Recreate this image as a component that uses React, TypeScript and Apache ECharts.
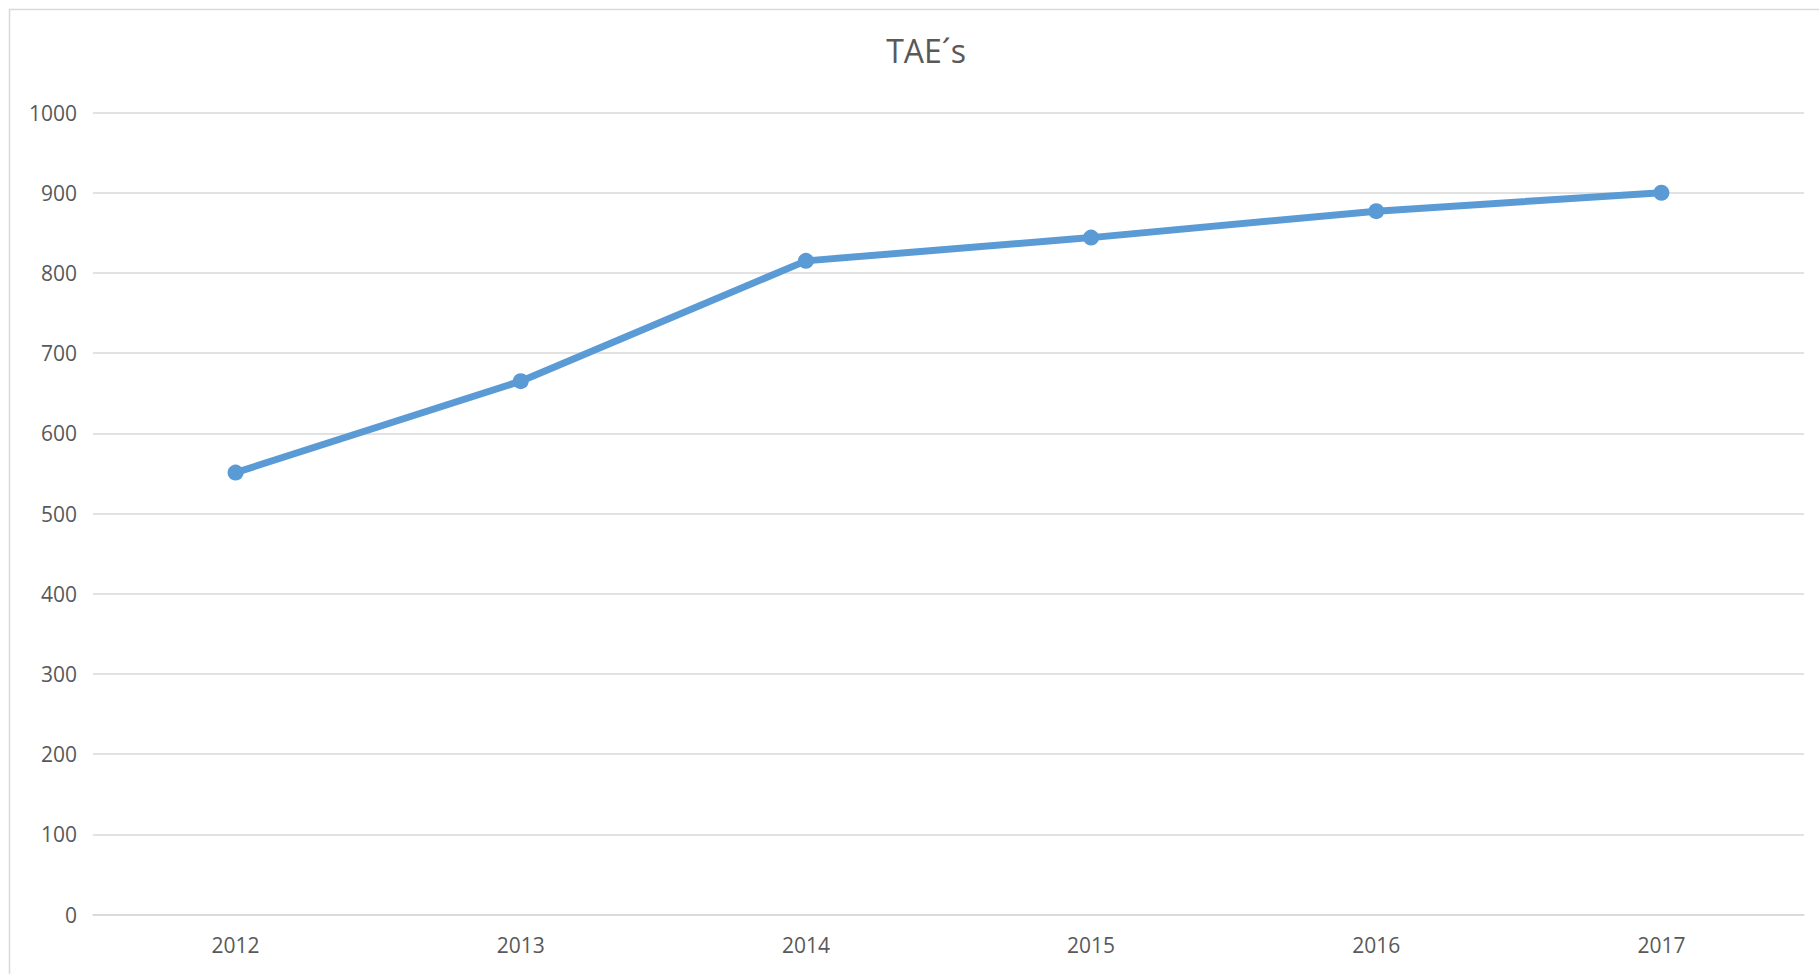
import React, { useEffect, useRef } from "react";
import * as echarts from "echarts";

const titleText = "TAE´s";
const years = ["2012", "2013", "2014", "2015", "2016", "2017"];
const taeValues = [551, 665, 815, 844, 877, 900];
const yMin = 0;
const yMax = 1000;
const yStep = 100;

export default function App() {
  const ref = useRef<HTMLDivElement>(null);
  useEffect(() => {
    if (!ref.current) return;
    const chart = echarts.init(ref.current, null, { renderer: "svg" });
    const font = "'Open Sans', 'Noto Sans', sans-serif";
    chart.setOption({
      animation: false,
      backgroundColor: "#ffffff",
      title: {
        text: titleText,
        left: 921,
        top: 29,
        textAlign: "center",
        textStyle: { fontFamily: font, fontSize: 32, fontWeight: "normal", color: "#595959" },
      },
      graphic: [
        {
          type: "rect",
          shape: { x: 9.5, y: 9.5, width: 1900, height: 1000 },
          style: { fill: "none", stroke: "#d9d9d9", lineWidth: 1.5 },
          silent: true,
        },
      ],
      grid: { left: 93, right: 15, top: 112.5, bottom: 59.5, containLabel: false },
      xAxis: {
        type: "category",
        data: years,
        boundaryGap: true,
        axisLine: { show: true, lineStyle: { color: "#d9d9d9", width: 1.5 } },
        axisTick: { show: false },
        axisLabel: { fontFamily: font, fontSize: 21, color: "#595959", margin: 20 },
        splitLine: { show: false },
      },
      yAxis: {
        type: "value",
        min: yMin,
        max: yMax,
        interval: yStep,
        axisLine: { show: false },
        axisTick: { show: false },
        axisLabel: {
          fontFamily: font,
          fontSize: 21,
          color: "#595959",
          margin: 16,
          formatter: (v: number) => String(v),
        },
        splitLine: { show: true, lineStyle: { color: "#d9d9d9", width: 1.5 } },
      },
      series: [
        {
          type: "line",
          data: taeValues,
          symbol: "circle",
          symbolSize: 16,
          lineStyle: { color: "#5B9BD5", width: 7 },
          itemStyle: { color: "#5B9BD5" },
        },
      ],
    });
    return () => chart.dispose();
  }, []);
  return (
    <div
      ref={ref}
      style={{ position: "absolute", left: 0, top: 0, width: 1819, height: 974 }}
    />
  );
}
